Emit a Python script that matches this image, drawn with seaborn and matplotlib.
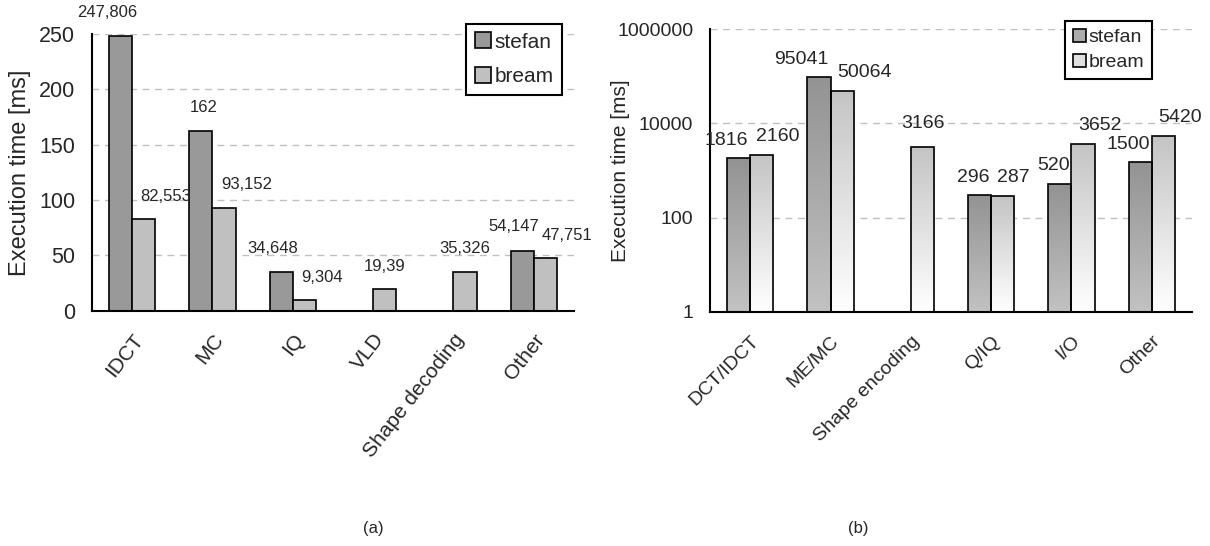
import numpy as np
import pandas as pd
import matplotlib
matplotlib.use('Agg')
import matplotlib.pyplot as plt
import seaborn as sns
from matplotlib.patches import Patch
from matplotlib.colors import LinearSegmentedColormap
from matplotlib.transforms import Bbox, BboxTransformTo, TransformedBbox, ScaledTranslation
from matplotlib.ticker import FixedLocator, NullLocator, FuncFormatter, NullFormatter

series = ['stefan', 'bream']

# (a) decoding
dec_tasks = ['IDCT', 'MC', 'IQ', 'VLD', 'Shape decoding', 'Other']
dec_stefan = [247.806, 162, 34.648, np.nan, np.nan, 54.147]
dec_bream = [82.553, 93.152, 9.304, 19.39, 35.326, 47.751]

# (b) encoding
enc_tasks = ['DCT/IDCT', 'ME/MC', 'Shape encoding', 'Q/IQ', 'I/O', 'Other']
enc_stefan = [1816, 95041, np.nan, 296, 520, 1500]
enc_bream = [2160, 50064, 3166, 287, 3652, 5420]


def long_df(tasks, stefan, bream):
    return pd.DataFrame({'task': tasks * 2,
                         'seq': ['stefan'] * len(tasks) + ['bream'] * len(tasks),
                         'ms': list(stefan) + list(bream)})


sns.set_style('white')
plt.rcParams['font.family'] = ['Liberation Sans', 'DejaVu Sans']

fig = plt.figure(figsize=(12.1, 5.46), dpi=100)
ax1 = fig.add_axes([0.0760, 0.4310, 0.3983, 0.5068])
ax2 = fig.add_axes([0.5868, 0.4291, 0.3983, 0.5172])

grid_kw = dict(color='#c0c0c0', linestyle=(0, (5, 4)), linewidth=1)


def style_x(ax, tasks, pad, rot, size):
    n = len(tasks)
    ax.set_xlim(-0.5, n - 0.5)
    ax.xaxis.set_major_locator(FixedLocator(np.arange(n + 1) - 0.5))
    ax.xaxis.set_major_formatter(NullFormatter())
    ax.set_xticks(np.arange(n), tasks, minor=True, rotation=rot,
                  ha='right', va='top', rotation_mode='anchor', fontsize=size)
    shift = ScaledTranslation(-0.12, 0, fig.dpi_scale_trans)
    for lab in ax.get_xticklabels(minor=True):
        lab.set_transform(lab.get_transform() + shift)
    ax.tick_params(axis='x', which='major', direction='out', length=7, width=1.5)
    ax.tick_params(axis='x', which='minor', length=0, pad=pad)
    ax.set_xlabel('')
    for s in ['left', 'bottom']:
        ax.spines[s].set_linewidth(1.5)
        ax.spines[s].set_color('black')
    sns.despine(ax=ax)


def bars_by_slot(container):
    out = {}
    for bar in container:
        h = bar.get_height()
        if np.isnan(h) or h <= 0:
            continue
        out[int(round(bar.get_x() + bar.get_width() / 2))] = bar
    return out


def add_labels(ax, fmt, size, st_off, br_off, alone_off):
    stefan_bars = bars_by_slot(ax.containers[0])
    bream_bars = bars_by_slot(ax.containers[1])
    for i, sb in stefan_bars.items():
        ax.annotate(fmt(sb.get_height()), (sb.get_x() + sb.get_width(), sb.get_height()),
                    xytext=st_off, textcoords='offset points',
                    ha='right', va='bottom', fontsize=size)
    for i, bb in bream_bars.items():
        if i in stefan_bars:
            ax.annotate(fmt(bb.get_height()), (bb.get_x(), bb.get_height()), xytext=br_off,
                        textcoords='offset points', ha='left', va='bottom', fontsize=size)
        else:
            ax.annotate(fmt(bb.get_height()), (bb.get_x() + bb.get_width() / 2, bb.get_height()),
                        xytext=alone_off, textcoords='offset points',
                        ha='center', va='bottom', fontsize=size)


# ---------- (a) ----------
df1 = long_df(dec_tasks, dec_stefan, dec_bream)
sns.barplot(data=df1, x='task', y='ms', hue='seq', order=dec_tasks, hue_order=series,
            palette=['#999999', '#c0c0c0'], saturation=1, width=0.575,
            edgecolor='black', linewidth=1.2, errorbar=None, legend=False, ax=ax1)
ax1.set_axisbelow(True)
ax1.set_ylim(0, 250)
ax1.set_yticks(np.arange(0, 251, 50))
ax1.yaxis.grid(True, **grid_kw)
ax1.tick_params(axis='y', direction='out', length=7, width=1.5, labelsize=15.5, pad=5)
ax1.set_ylabel('Execution time [ms]', fontsize=17)
ax1.yaxis.set_label_coords(-0.127, 0.5)
style_x(ax1, dec_tasks, 14, 52, 15)
add_labels(ax1, lambda v: f'{v:g}'.replace('.', ','), 12, (4, 12), (6, 11), (0, 11))

ax1.legend(handles=[Patch(facecolor='#999999', edgecolor='black', lw=1.2),
                    Patch(facecolor='#c0c0c0', edgecolor='black', lw=1.2)],
           labels=series, loc='upper right', bbox_to_anchor=(0.975, 1.036),
           fontsize=15, handlelength=0.8, handleheight=0.8, handletextpad=0.15,
           labelspacing=0.75, borderpad=0.4, borderaxespad=0, fancybox=False,
           framealpha=1, edgecolor='black').get_frame().set_linewidth(1.5)

# ---------- (b) ----------
df2 = long_df(enc_tasks, enc_stefan, enc_bream)
sns.barplot(data=df2, x='task', y='ms', hue='seq', order=enc_tasks, hue_order=series,
            palette=['#999999', '#c0c0c0'], saturation=1, width=0.58,
            edgecolor='black', linewidth=1.2, errorbar=None, legend=False,
            log_scale=True, ax=ax2)
ax2.set_axisbelow(True)

grad_cols = [('#939393', '#c2c2c2'), ('#c4c4c4', '#ffffff')]
grad = np.linspace(0, 1, 256).reshape(-1, 1)
for cont, (top, bottom) in zip(ax2.containers, grad_cols):
    cmap = LinearSegmentedColormap.from_list('g', [top, bottom])
    for bar in cont:
        h = bar.get_height()
        if np.isnan(h) or h <= 0:
            continue
        x0 = bar.get_x()
        bb = Bbox.from_extents(x0, 1, x0 + bar.get_width(), bar.get_y() + h)
        tr = BboxTransformTo(TransformedBbox(bb, ax2.transData))
        im = ax2.imshow(grad, cmap=cmap, extent=(0, 1, 0, 1), origin='upper',
                        aspect='auto', interpolation='bilinear', transform=tr, zorder=1.5)
        im.set_clip_path(bar)
        bar.set_facecolor('none')
        bar.set_zorder(2)

ax2.set_yscale('log')
ax2.set_ylim(1, 1e6)
ax2.yaxis.set_major_locator(FixedLocator([1, 100, 10000, 1000000]))
ax2.yaxis.set_minor_locator(NullLocator())
ax2.yaxis.set_major_formatter(FuncFormatter(lambda v, p: f'{v:.0f}'))
ax2.yaxis.grid(True, **grid_kw)
ax2.tick_params(axis='y', direction='out', length=7, width=1.5, labelsize=14, pad=5)
ax2.set_ylabel('Execution time [ms]', fontsize=15)
ax2.yaxis.set_label_coords(-0.166, 0.5)
style_x(ax2, enc_tasks, 15, 45, 14)
add_labels(ax2, lambda v: f'{v:g}', 14, (-1.5, 7), (4.5, 7), (0, 11))

ax2.legend(handles=[Patch(facecolor='#ababab', edgecolor='black', lw=1.2),
                    Patch(facecolor='#e0e0e0', edgecolor='black', lw=1.2)],
           labels=series, loc='upper right', bbox_to_anchor=(0.917, 1.029),
           fontsize=14, handlelength=0.65, handleheight=0.65, handletextpad=0.15,
           labelspacing=0.4, borderpad=0.4, borderaxespad=0, fancybox=False,
           framealpha=1, edgecolor='black').get_frame().set_linewidth(1.5)

fig.text(373 / 1210, 1 - 528 / 546, '(a)', ha='center', va='center', fontsize=12)
fig.text(858 / 1210, 1 - 528 / 546, '(b)', ha='center', va='center', fontsize=12)

fig.savefig('out.png', dpi=100)
